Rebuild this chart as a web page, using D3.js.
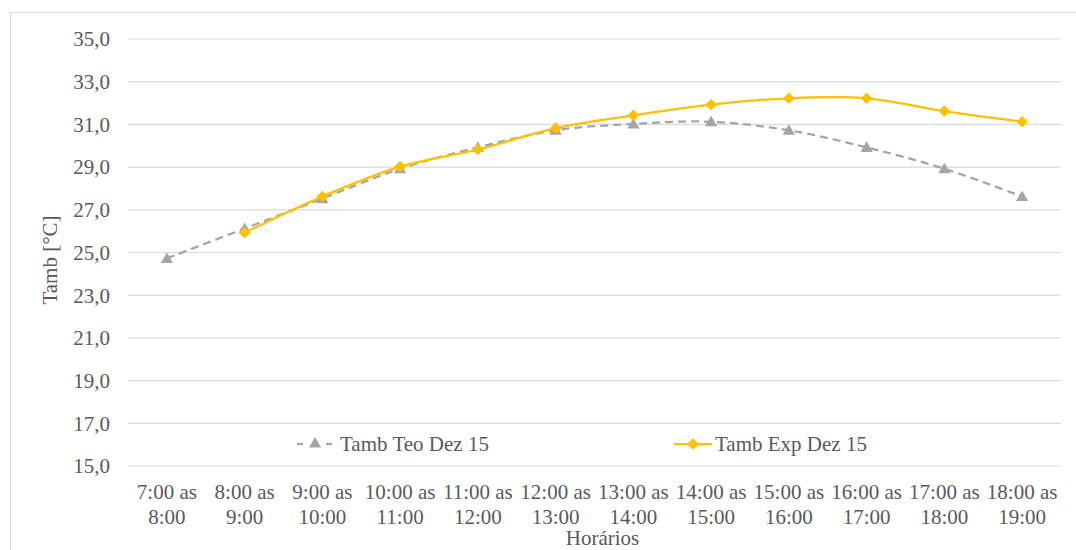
<!DOCTYPE html>
<html>
<head>
<meta charset="utf-8">
<script src="https://cdn.jsdelivr.net/npm/d3@7/dist/d3.min.js"></script>
<style>
  html, body { margin: 0; padding: 0; background: #ffffff; }
  svg { display: block; }
  svg text { font-family: "Liberation Serif", "Times New Roman", Times, Tinos, "Noto Serif", "DejaVu Serif", serif; fill: #595959; }
</style>
</head>
<body>
<svg id="chart" width="1076" height="550"></svg>
<script>
// Hourly intervals (start line / end line of each axis label)
const startLabels = ["7:00 as", "8:00 as", "9:00 as", "10:00 as", "11:00 as", "12:00 as",
                     "13:00 as", "14:00 as", "15:00 as", "16:00 as", "17:00 as", "18:00 as"];
const endLabels   = ["8:00", "9:00", "10:00", "11:00", "12:00", "13:00",
                     "14:00", "15:00", "16:00", "17:00", "18:00", "19:00"];
const categories  = startLabels.map((s, i) => s + " " + endLabels[i]);

// Theoretical ambient temperature, December 15 (°C)
const tambTeo = [24.7, 26.1, 27.5, 28.9, 29.9, 30.7, 31.0, 31.1, 30.7, 29.9, 28.9, 27.6];
// Measured ambient temperature, December 15 (°C); no reading for the first interval
const tambExp = [null, 25.9, 27.6, 29.0, 29.8, 30.8, 31.4, 31.9, 32.2, 32.2, 31.6, 31.1];

const yTicks = [15, 17, 19, 21, 23, 25, 27, 29, 31, 33, 35];

const seriesNames = ["Tamb Teo Dez 15", "Tamb Exp Dez 15"];
const yTitle = "Tamb [°C]";
const xTitle = "Horários";

const svg = d3.select("#chart");
const fontSize = 21;
const serif = '"Liberation Serif", "Times New Roman", Times, Tinos, "Noto Serif", "DejaVu Serif", serif';
const plot = { left: 128, right: 1061, top: 38.5, bottom: 465.5 };

// Chart area frame
svg.append("rect")
  .attr("x", 10.5).attr("y", 12.5)
  .attr("width", 1100).attr("height", 600)
  .attr("fill", "#ffffff").attr("stroke", "#d9d9d9").attr("stroke-width", 1);

const x = d3.scaleBand().domain(categories).range([plot.left, plot.right]).paddingInner(0).paddingOuter(0);
const xc = c => x(c) + x.bandwidth() / 2;
const y = d3.scaleLinear().domain([15, 35]).range([plot.bottom, plot.top]);

const fmt = v => d3.format(".1f")(v).replace(".", ",");

// Horizontal gridlines + y tick labels
const yAxis = svg.append("g")
  .attr("transform", `translate(${plot.left},0)`)
  .call(d3.axisLeft(y).tickValues(yTicks).tickFormat(fmt)
        .tickSize(-(plot.right - plot.left)).tickPadding(18));
yAxis.attr("font-family", serif).attr("font-size", fontSize);
yAxis.select(".domain").remove();
yAxis.selectAll(".tick line").attr("stroke", "#d9d9d9").attr("stroke-width", 1.2);
yAxis.selectAll(".tick text")
  .attr("font-size", fontSize)
  .attr("fill", "#595959")
  .attr("dy", "0.35em");

// X tick labels, two lines each
const xAxis = svg.append("g")
  .attr("transform", `translate(0,${plot.bottom})`)
  .call(d3.axisBottom(x).tickSize(0).tickFormat(""));
xAxis.attr("font-family", serif).attr("font-size", fontSize);
xAxis.select(".domain").remove();
xAxis.selectAll(".tick").each(function(d, i) {
  const t = d3.select(this).append("text")
    .attr("text-anchor", "middle")
    .attr("font-size", fontSize)
    .attr("fill", "#595959");
  t.append("tspan").attr("x", 0).attr("y", 33).text(startLabels[i]);
  t.append("tspan").attr("x", 0).attr("y", 58.5).text(endLabels[i]);
});

// Axis titles
svg.append("text")
  .attr("transform", `translate(57,${(plot.top + plot.bottom) / 2 + 8}) rotate(-90)`)
  .attr("text-anchor", "middle")
  .attr("font-size", fontSize)
  .text(yTitle);
svg.append("text")
  .attr("x", (plot.left + plot.right) / 2 + 8)
  .attr("y", 545)
  .attr("text-anchor", "middle")
  .attr("font-size", fontSize)
  .text(xTitle);

const gray = "#a5a5a5", gold = "#ffc000";
const tri = d3.symbol().type(d3.symbolTriangle).size(64);
// Diamond = square turned 45°
const dia = d3.symbol().type(d3.symbolSquare).size(68);

const line = d3.line().x(d => xc(d.c)).y(d => y(d.v)).curve(d3.curveCatmullRom.alpha(0.5));

// Theoretical series: dashed gray line with triangles
const teoPts = categories.map((c, i) => ({ c, v: tambTeo[i] })).filter(d => d.v != null);
svg.append("path").datum(teoPts)
  .attr("d", line).attr("fill", "none")
  .attr("stroke", gray).attr("stroke-width", 2.25).attr("stroke-dasharray", "8,5");
svg.append("g").selectAll("path").data(teoPts).join("path")
  .attr("d", tri).attr("fill", gray)
  .attr("transform", d => `translate(${xc(d.c)},${y(d.v) + 1})`);

// Measured series: solid gold line with diamonds
const expPts = categories.map((c, i) => ({ c, v: tambExp[i] })).filter(d => d.v != null);
svg.append("path").datum(expPts)
  .attr("d", line).attr("fill", "none")
  .attr("stroke", gold).attr("stroke-width", 2.25);
svg.append("g").selectAll("path").data(expPts).join("path")
  .attr("d", dia).attr("fill", gold)
  .attr("transform", d => `translate(${xc(d.c)},${y(d.v)}) rotate(45)`);

// Legend
const legY = 444;
const lg1 = svg.append("g");
lg1.append("line").attr("x1", 297).attr("x2", 303).attr("y1", legY).attr("y2", legY)
  .attr("stroke", gray).attr("stroke-width", 2.25);
lg1.append("line").attr("x1", 326).attr("x2", 332).attr("y1", legY).attr("y2", legY)
  .attr("stroke", gray).attr("stroke-width", 2.25);
lg1.append("path").attr("d", tri).attr("fill", gray).attr("transform", `translate(315,${legY})`);
lg1.append("text").attr("x", 340).attr("y", legY).attr("dy", "0.35em")
  .attr("font-size", fontSize).text(seriesNames[0]);

const lg2 = svg.append("g");
lg2.append("line").attr("x1", 674).attr("x2", 712).attr("y1", legY).attr("y2", legY)
  .attr("stroke", gold).attr("stroke-width", 2.25);
lg2.append("path").attr("d", dia).attr("fill", gold).attr("transform", `translate(693,${legY}) rotate(45)`);
lg2.append("text").attr("x", 715).attr("y", legY).attr("dy", "0.35em")
  .attr("font-size", fontSize).text(seriesNames[1]);
</script>
</body>
</html>
